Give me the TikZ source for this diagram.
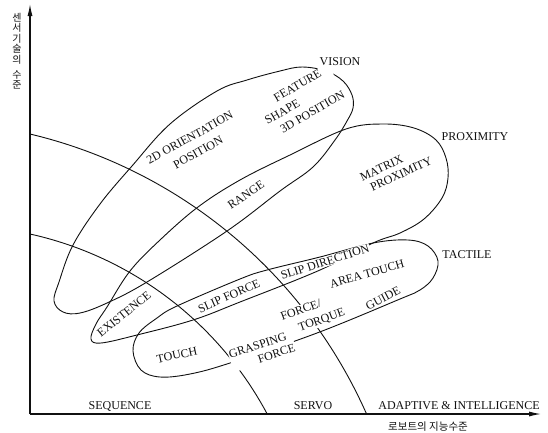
\documentclass[tikz,border=0pt]{standalone}
\usepackage{fontspec}
\setmainfont{Liberation Serif}
\newfontfamily\kor{Noto Sans CJK KR}
\usetikzlibrary{arrows.meta}
\definecolor{rbink}{HTML}{111111}
\tikzset{
  rb text/.style={font=\fontsize{12}{15}\selectfont, text=rbink},
  rb axis/.style={draw=rbink, line width=1.1pt, -{Latex[length=12pt,width=5pt]}},
  rb arc/.style={draw=rbink, line width=0.9pt},
  rb loop/.style={draw=rbink, line width=0.9pt},
  rb name/.style={font=\fontsize{12}{15}\selectfont, inner sep=1pt},
  rb tag/.style={font=\fontsize{12}{15}\selectfont, fill=white, inner sep=0.8pt, align=center},
  rb kor/.style={font=\kor\fontsize{10.5}{11}\selectfont, inner sep=0pt, align=center}
}

\begin{document}
\begin{tikzpicture}[rb text, x=1pt, y=-1pt]
  \useasboundingbox (0,0) rectangle (548,432);
  \coordinate (O) at (30,414);
  \coordinate (xend) at (541,414);
  \coordinate (yend) at (30,4);
  \draw[rb axis] (O) -- (xend);
  \draw[rb axis] (O) -- (yend);
  \draw[rb arc] (30,134) arc[start angle=-76.6, end angle=-24, radius=493];
  \draw[rb arc] (30,234) arc[start angle=-77.5, end angle=-28.1, radius=356.4];
  \draw[rb loop] plot[smooth cycle, tension=0.6] coordinates {
    (54,301) (59,282) (73,245) (100,204) (132,166) (170,124) (217,91) (247,80)
    (280,71) (302,67) (326,71) (343,81) (352,95) (353,108) (347,121) (335,140)
    (313,167) (280,191) (227,231) (147,282) (107,303) (80,313) (63,312)};
  \draw[rb loop] plot[smooth cycle, tension=0.6] coordinates {
    (91,339) (96,324) (107,307) (130,271) (160,240) (198,207) (240,180) (290,155)
    (346,129) (383,124) (414,128) (436,140) (446,158) (448,178) (442,198) (424,219)
    (400,233) (373,243) (320,270) (240,302) (193,320) (137,335) (101,343)};
  \draw[rb loop] plot[smooth cycle, tension=0.6] coordinates {
    (133,351) (139,333) (157,318) (177,306) (240,279) (267,270) (320,257) (373,243)
    (408,240) (428,246) (438,261) (433,278) (420,290) (400,299) (317,333) (230,363)
    (190,374) (160,377) (141,370)};
  \node[rb name] (lblV) at (340,62) {VISION};
  \node[rb name] (lblP) at (475,137) {PROXIMITY};
  \node[rb name] (lblT) at (467,255) {TACTILE};
  \node[rb tag, font=\fontsize{12}{17}\selectfont, rotate=29] (orient) at (194,145) {2D ORIENTATION\\POSITION};
  \node[rb tag, align=left, rotate=30] (feature) at (301,101) {\hspace*{19pt}FEATURE\\SHAPE\\\hspace*{9pt}3D POSITION};
  \node[rb tag, rotate=34] (range) at (246,195) {RANGE};
  \node[rb tag, align=left, font=\fontsize{12}{13.5}\selectfont, rotate=25] (matrix) at (396,169) {MATRIX\\\hspace*{5pt}PROXIMITY};
  \node[rb tag, rotate=39] (exist) at (124,314) {EXISTENCE};
  \node[rb tag, rotate=24] (slipF) at (229,296) {SLIP FORCE};
  \node[rb tag, rotate=18] (slipD) at (325,262) {SLIP DIRECTION};
  \node[rb tag, rotate=16] (areaT) at (367,274) {AREA TOUCH};
  \node[rb tag, rotate=28] (guide) at (383,298) {GUIDE};
  \node[rb tag, align=left, font=\fontsize{12}{16}\selectfont, rotate=20] (ftorque) at (313,315) {FORCE/\\\hspace*{13pt}TORQUE};
  \node[rb tag, align=left, font=\fontsize{12}{13.5}\selectfont, rotate=18] (grasp) at (262,351) {GRASPING\\\hspace*{26pt}FORCE};
  \node[rb tag, rotate=12] (touch) at (177,355) {TOUCH};
  \node[rb name] (seq) at (120,406) {SEQUENCE};
  \node[rb name] (servo) at (313,406) {SERVO};
  \node[rb name] (adapt) at (459,406) {ADAPTIVE \& INTELLIGENCE};
  \node[rb kor] (xname) at (428,427) {로보트의 지능수준};
  \node[rb kor, font=\kor\fontsize{10}{10.6}\selectfont] (yname) at (17,51) {센\\서\\기\\술\\의\\[4pt]수\\준};
\end{tikzpicture}
\end{document}
